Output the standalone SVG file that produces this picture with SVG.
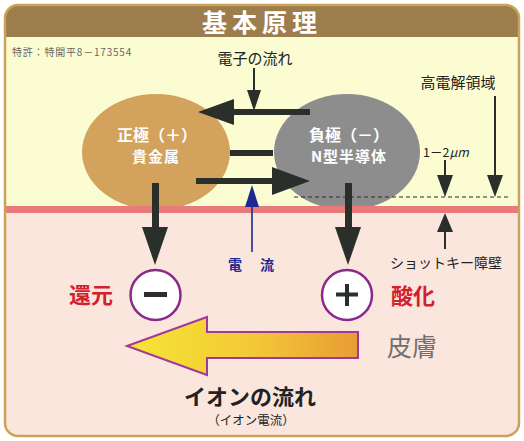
<svg xmlns="http://www.w3.org/2000/svg" width="524" height="441" viewBox="0 0 524 441">
<defs>
<style>
.jp{font-family:"Noto Sans CJK JP","Noto Sans",sans-serif;}
.dk{fill:#2b2f2b;}
.wt{fill:#ffffff;font-weight:bold;text-anchor:middle;}
.lbl{fill:#222;}
</style>
<linearGradient id="ya" x1="0" y1="0" x2="1" y2="0">
<stop offset="0" stop-color="#f6e634"/>
<stop offset="0.55" stop-color="#f3c837"/>
<stop offset="1" stop-color="#e89c34"/>
</linearGradient>
<clipPath id="fr"><rect x="5" y="5" width="514" height="431" rx="13"/></clipPath>
</defs>
<rect width="524" height="441" fill="#ffffff"/>
<g clip-path="url(#fr)">
<rect x="5" y="5" width="514" height="431" fill="#fbe6de"/>
<rect x="5" y="37" width="514" height="170" fill="#fbfcd2"/>
<rect x="5" y="5" width="514" height="32" fill="#9e7d4d"/>
</g>
<g id="title">
<text class="jp" x="262" y="32" font-size="25" font-weight="bold" fill="#ffffff" text-anchor="middle" letter-spacing="5">基本原理</text>
<text class="jp" x="12" y="56" font-size="10" fill="#666" letter-spacing="0.8">特許：特開平8－173554</text>
</g>
<g id="anode">
<ellipse cx="156" cy="152" rx="74" ry="58" fill="#d3a25c"/>
<text class="jp wt" x="157" y="141" font-size="16">正極（＋）</text>
<text class="jp wt" x="156" y="162" font-size="15" letter-spacing="1">貴金属</text>
</g>
<g id="cathode">
<ellipse cx="347" cy="152" rx="73" ry="58" fill="#8d8d8d"/>
<text class="jp wt" x="349" y="141" font-size="16">負極（－）</text>
<text class="jp wt" x="349" y="162" font-size="15" letter-spacing="1">N型半導体</text>
</g>
<g id="barrier">
<rect x="5" y="206" width="514" height="7" fill="#e87a7a"/>
</g>
<g id="frame">
<rect x="5" y="5" width="514" height="431" rx="13" fill="none" stroke="#c9a458" stroke-width="2.5"/>
</g>
<g id="connectors">
<line x1="254" y1="68" x2="254" y2="92" stroke="#2b2f2b" stroke-width="2"/>
<polygon class="dk" points="247,90 261,90 254,111"/>
<rect class="dk" x="230" y="109" width="80" height="6"/>
<polygon class="dk" points="198,112 234,99 234,125"/>
<rect class="dk" x="230" y="150" width="43" height="6"/>
<rect class="dk" x="196" y="178" width="80" height="6"/>
<polygon class="dk" points="310,181 272,167 272,195"/>
<rect class="dk" x="152" y="183" width="7" height="46"/>
<polygon class="dk" points="142,227 168,227 155,265"/>
<rect class="dk" x="345" y="183" width="7" height="46"/>
<polygon class="dk" points="335,227 361,227 348,265"/>
<line x1="252" y1="252" x2="252" y2="200" stroke="#1c2a92" stroke-width="1.6"/>
<polygon fill="#1c2a92" points="245,207 259,207 252,185"/>
<line x1="495" y1="96" x2="495" y2="178" stroke="#2b2f2b" stroke-width="2"/>
<polygon class="dk" points="487,175 503,175 495,197"/>
<line x1="445" y1="160" x2="445" y2="178" stroke="#2b2f2b" stroke-width="2"/>
<polygon class="dk" points="437,175 453,175 445,197"/>
<line x1="294" y1="197" x2="508" y2="197" stroke="#2b2f2b" stroke-width="1" stroke-dasharray="4,3"/>
<polygon class="dk" points="437,232 453,232 445,213"/>
<line x1="445" y1="230" x2="445" y2="249" stroke="#2b2f2b" stroke-width="2"/>
<polygon points="127,346 207,317 207,332 358,332 358,358 207,358 207,375" fill="url(#ya)" stroke="#a03a9a" stroke-width="2" stroke-linejoin="miter"/>
</g>
<g id="labels">
<text class="jp lbl" x="255" y="64" font-size="15" text-anchor="middle">電子の流れ</text>
<text class="jp lbl" x="458" y="88" font-size="15" text-anchor="middle">高電解領域</text>
<text class="jp lbl" x="423" y="157" font-size="12.5">1－2<tspan font-style="italic">μm</tspan></text>
<text class="jp" x="252" y="270" font-size="14" font-weight="bold" fill="#1c2a92" text-anchor="middle" letter-spacing="2">電　流</text>
<text class="jp lbl" x="446" y="268" font-size="14" text-anchor="middle">ショットキー障壁</text>
<text class="jp" x="91" y="303" font-size="22" font-weight="bold" fill="#d4202e" text-anchor="middle">還元</text>
<text class="jp" x="413" y="304" font-size="22" font-weight="bold" fill="#d4202e" text-anchor="middle">酸化</text>
<text class="jp" x="412" y="356" font-size="25" fill="#707070" text-anchor="middle">皮膚</text>
<text class="jp" x="250" y="405" font-size="22" font-weight="bold" fill="#222" text-anchor="middle">イオンの流れ</text>
<text class="jp" x="251" y="425" font-size="12.5" fill="#222" text-anchor="middle">（イオン電流）</text>
</g>
<g id="minus">
<circle cx="155.5" cy="295" r="25" fill="#ffffff" stroke="#8c2a8c" stroke-width="2.5"/>
<rect class="dk" x="144" y="292" width="23" height="5"/>
</g>
<g id="plus">
<circle cx="347" cy="295" r="25" fill="#ffffff" stroke="#8c2a8c" stroke-width="2.5"/>
<rect class="dk" x="336" y="292.5" width="22" height="4"/>
<rect class="dk" x="345" y="284" width="4" height="22"/>
</g>
</svg>
